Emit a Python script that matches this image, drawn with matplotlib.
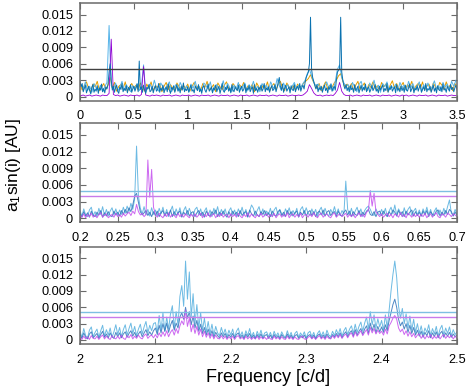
import numpy as np
import matplotlib
matplotlib.use('Agg')
import matplotlib.pyplot as plt
from matplotlib.ticker import FuncFormatter

plt.rcParams['font.family'] = ['Liberation Sans', 'DejaVu Sans']
plt.rcParams['mathtext.fontset'] = 'custom'
plt.rcParams['mathtext.rm'] = 'Liberation Sans'
plt.rcParams['mathtext.it'] = 'Liberation Sans:italic'

# ===================== data (amplitudes in units of 1e-4 AU) =====================
UNIT = 1e-4

# top panel: 0 - 3.5 c/d
TOP_BLUE_F0, TOP_BLUE_DF = 0.0, 0.01
TOP_BLUE = [
    28, 18, 24, 9, 15, 21, 7, 13, 19, 11, 5, 17, 22, 8, 14, 10, 20, 6, 16, 12, 23, 9, 15, 7, 18,
    14, 22, 45, 60, 30, 12, 19, 8, 16, 21, 10, 6, 18, 13, 24, 9, 15, 11, 20, 7, 17, 12, 22, 8, 14,
    19, 10, 16, 23, 9, 65, 13, 18, 8, 21, 12, 6, 17, 14, 22, 9, 11, 19, 7, 15, 20, 10, 13, 24, 8,
    16, 11, 21, 7, 14, 18, 9, 23, 12, 6, 17, 13, 20, 8, 15, 22, 10, 16, 7, 19, 12, 25, 9, 14, 11,
    18, 8, 15, 21, 10, 13, 7, 19, 16, 11, 22, 9, 14, 6, 17, 20, 12, 8, 15, 23, 10, 13, 18, 7, 16,
    12, 21, 9, 15, 19, 6, 14, 24, 11, 8, 17, 13, 20, 10, 16, 7, 22, 12, 9, 18, 14, 11, 21, 8, 15,
    19, 10, 13, 23, 7, 16, 12, 20, 9, 14, 18, 6, 22, 11, 15, 8, 17, 13, 21, 10, 14, 24, 9, 16, 12,
    18, 8, 15, 20, 11, 14, 22, 9, 17, 26, 35, 19, 12, 23, 8, 16, 21, 10, 14, 18, 7, 20, 13, 11, 22,
    9, 16, 19, 12, 24, 10, 17, 21, 14, 26, 35, 40, 45, 60, 145, 50, 35, 28, 20, 14, 22, 9, 17, 12, 19,
    8, 15, 21, 11, 16, 7, 18, 13, 22, 10, 15, 19, 12, 30, 45, 48, 50, 145, 45, 30, 20, 14, 22, 11, 17,
    9, 20, 13, 16, 8, 22, 11, 15, 19, 7, 14, 21, 10, 17, 12, 23, 9, 15, 18, 8, 13, 20, 11, 16, 22,
    10, 14, 7, 19, 12, 17, 21, 9, 15, 11, 24, 8, 16, 13, 20, 10, 14, 18, 7, 22, 12, 15, 9, 19, 11,
    17, 8, 21, 13, 10, 16, 23, 9, 14, 19, 7, 15, 12, 20, 10, 17, 22, 8, 13, 18, 11, 24, 9, 15, 12,
    19, 8, 14, 21, 10, 16, 7, 20, 13, 11, 18, 9, 23, 12, 15, 8, 19, 14, 10, 22, 13, 17, 9, 16, 21,
    12,
]

TOP_LIGHT_F0, TOP_LIGHT_DF = 0.01, 0.02
TOP_LIGHT = [
    22, 14, 27, 11, 19, 8, 24, 16, 12, 21, 9, 18, 26, 130, 20, 13, 25, 10, 17, 28, 12, 22, 15, 9, 20,
    14, 24, 11, 19, 58, 8, 17, 23, 13, 30, 16, 10, 25, 18, 12, 21, 27, 9, 15, 22, 11, 26, 17, 13, 20,
    9, 23, 15, 28, 12, 18, 10, 25, 20, 14, 27, 8, 19, 22, 13, 16, 29, 11, 24, 17, 9, 21, 14, 26, 12,
    18, 25, 10, 22, 15, 28, 13, 19, 9, 24, 16, 21, 12, 27, 18, 14, 33, 20, 11, 25, 15, 22, 10, 19, 26,
    14, 21, 17, 24, 30, 42, 50, 38, 26, 20, 23, 18, 12, 20, 27, 16, 24, 11, 28, 50, 58, 35, 25, 19, 22,
    12, 26, 17, 9, 22, 28, 14, 19, 11, 25, 16, 30, 13, 21, 8, 24, 18, 27, 12, 20, 15, 23, 10, 26, 17,
    21, 11, 28, 16, 24, 13, 19, 27, 9, 22, 15, 25, 12, 18, 29, 14, 20, 10, 26, 17, 23, 13, 28, 19, 30,
]

TOP_ORANGE_F0, TOP_ORANGE_DF = 0.0, 0.02
TOP_ORANGE = [
    25, 12, 20, 27, 15, 9, 23, 18, 28, 11, 17, 24, 13, 21, 35, 16, 26, 10, 19, 22, 14, 27, 9, 18, 24,
    16, 21, 12, 25, 18, 10, 23, 15, 27, 11, 20, 17, 24, 9, 19, 26, 13, 22, 16, 10, 25, 18, 12, 21, 15,
    23, 10, 19, 26, 14, 20, 11, 24, 17, 28, 12, 16, 22, 9, 25, 18, 13, 21, 27, 15, 10, 24, 19, 12, 22,
    17, 26, 11, 20, 14, 23, 9, 25, 18, 12, 21, 15, 27, 10, 19, 24, 13, 22, 28, 16, 11, 25, 18, 14, 20,
    12, 23, 17, 20, 26, 29, 33, 40, 30, 22, 15, 24, 11, 19, 27, 14, 21, 17, 25, 30, 38, 42, 28, 18, 23,
    16, 24, 11, 21, 28, 13, 19, 25, 10, 22, 17, 27, 14, 20, 12, 26, 18, 23, 9, 21, 29, 15, 24, 12, 19,
    26, 13, 22, 17, 28, 11, 20, 24, 15, 27, 12, 19, 23, 10, 25, 18, 14, 26, 21, 13, 27, 16, 22, 11, 24,
    18,
]

TOP_MAG_F0, TOP_MAG_DF = 0.01, 0.02
TOP_MAG = [
    2, 3, 1, 2, 3, 1, 2, 3, 2, 1, 3, 2, 2, 6, 105, 4, 2, 3, 1, 2, 3, 2, 1, 3, 2,
    2, 3, 1, 4, 55, 3, 2, 1, 3, 2, 3, 2, 1, 3, 2, 2, 3, 1, 2, 3, 2, 1, 3, 2, 2,
    3, 1, 2, 3, 2, 1, 3, 2, 2, 3, 1, 2, 3, 2, 1, 3, 2, 2, 3, 1, 2, 3, 2, 1, 3,
    2, 2, 3, 1, 2, 3, 2, 1, 3, 2, 2, 3, 1, 2, 3, 2, 1, 3, 2, 2, 3, 1, 2, 3, 2,
    2, 3, 2, 3, 6, 10, 22, 15, 7, 3, 2, 3, 1, 2, 3, 2, 3, 2, 6, 12, 26, 10, 4, 2, 2,
    3, 1, 2, 3, 2, 1, 3, 2, 2, 3, 1, 2, 3, 2, 1, 3, 2, 2, 3, 1, 2, 3, 2, 1, 3,
    2, 3, 1, 2, 3, 2, 1, 3, 2, 2, 3, 1, 2, 3, 2, 1, 3, 2, 2, 3, 1, 2, 3, 2, 2,
]
TOP_LIMIT = 0.005

# middle panel: 0.2 - 0.7 c/d
MID_F0, MID_DF = 0.2, 0.0025
MID_LIGHT = [
    14, 4, 17, 6, 3, 15, 20, 5, 12, 3, 18, 7, 21, 5, 16, 4, 13, 19, 6, 17,
    5, 15, 7, 20, 9, 22, 12, 27, 16, 35, 130, 40, 18, 8, 21, 6, 16, 4, 19, 7,
    15, 4, 18, 8, 20, 5, 16, 3, 13, 22, 5, 17, 7, 19, 4, 14, 21, 6, 18, 8,
    4, 16, 20, 6, 17, 4, 13, 19, 5, 15, 3, 18, 8, 21, 5, 16, 7, 17, 4, 13,
    19, 6, 15, 4, 17, 8, 20, 6, 16, 3, 13, 24, 18, 5, 14, 21, 6, 17, 4, 13,
    7, 18, 3, 15, 20, 6, 16, 8, 4, 17, 9, 19, 5, 14, 7, 18, 3, 16, 21, 8,
    19, 9, 5, 17, 7, 16, 3, 14, 20, 6, 18, 8, 4, 16, 9, 21, 7, 17, 5, 14,
    8, 67, 16, 6, 18, 4, 13, 20, 7, 17, 3, 14, 19, 22, 16, 8, 5, 17, 9, 6,
    16, 7, 18, 4, 13, 20, 8, 24, 6, 17, 10, 3, 19, 7, 16, 21, 5, 13, 18, 6,
    15, 4, 17, 8, 20, 6, 16, 3, 13, 19, 7, 15, 5, 18, 8, 21, 33, 9, 6, 16,
    7,
]
MID_BLUE = [
    9, 2, 12, 4, 10, 2, 13, 5, 3, 11, 6, 14, 2, 10, 4, 12, 5, 3, 13, 6,
    11, 4, 14, 7, 16, 9, 19, 12, 24, 40, 45, 28, 12, 6, 10, 14, 5, 11, 3, 12,
    5, 13, 3, 10, 14, 4, 11, 6, 15, 3, 12, 5, 10, 13, 2, 11, 6, 14, 4, 10,
    12, 3, 10, 14, 5, 11, 2, 13, 6, 4, 12, 7, 15, 3, 11, 5, 13, 6, 2, 12,
    4, 13, 6, 11, 3, 14, 5, 10, 12, 2, 15, 8, 4, 13, 6, 3, 12, 7, 14, 5,
    10, 3, 13, 6, 4, 12, 15, 5, 11, 3, 14, 6, 12, 4, 10, 13, 2, 11, 6, 14,
    4, 11, 14, 5, 12, 3, 10, 13, 6, 15, 4, 11, 14, 5, 10, 12, 3, 13, 6, 4,
    11, 15, 6, 13, 3, 12, 7, 5, 14, 4, 11, 6, 13, 16, 7, 5, 12, 3, 11, 13,
    5, 13, 7, 3, 12, 6, 15, 11, 4, 14, 7, 12, 3, 13, 6, 11, 15, 4, 12, 5,
    11, 4, 13, 6, 14, 3, 12, 7, 5, 13, 15, 4, 11, 6, 14, 7, 16, 12, 4, 11,
    6,
]
MID_MAG = [
    6, 2, 8, 1, 7, 3, 9, 2, 6, 1, 7, 10, 2, 6, 8, 1, 4, 7, 2, 9,
    3, 7, 2, 9, 4, 8, 11, 5, 13, 8, 25, 12, 6, 9, 3, 7, 105, 38, 88, 20,
    7, 2, 9, 4, 1, 8, 3, 10, 2, 7, 5, 1, 9, 3, 7, 2, 8, 4, 1, 7,
    3, 8, 2, 6, 9, 1, 7, 3, 10, 2, 6, 8, 1, 7, 3, 9, 2, 6, 7, 1,
    8, 3, 7, 2, 9, 4, 1, 7, 3, 10, 2, 8, 4, 1, 7, 3, 9, 2, 6, 8,
    2, 7, 3, 9, 1, 6, 8, 2, 7, 3, 10, 1, 6, 8, 2, 7, 3, 9, 1, 6,
    7, 2, 8, 3, 10, 4, 1, 7, 9, 2, 6, 8, 3, 1, 7, 10, 2, 6, 8, 3,
    6, 9, 2, 7, 3, 8, 1, 6, 10, 3, 7, 2, 11, 14, 50, 22, 45, 12, 7, 3,
    8, 2, 6, 9, 3, 7, 1, 8, 6, 2, 10, 3, 7, 1, 9, 6, 2, 8, 3, 7,
    2, 7, 3, 9, 1, 6, 8, 2, 7, 10, 3, 1, 8, 6, 2, 9, 7, 3, 8, 6,
    3,
]
MID_LIMITS = (0.00497, 0.00401)

# bottom panel: 2.0 - 2.5 c/d
BOT_F0, BOT_DF = 2.0, 0.0025
BOT_LIGHT = [
    16, 5, 21, 8, 4, 18, 24, 6, 14, 20, 5, 17, 27, 7, 19, 9, 22, 5, 15, 28,
    10, 23, 6, 19, 28, 9, 21, 31, 12, 25, 8, 20, 29, 11, 24, 34, 13, 27, 17, 30,
    32, 14, 45, 18, 50, 16, 42, 20, 48, 63, 22, 52, 28, 80, 100, 62, 145, 75, 125, 42,
    85, 30, 65, 22, 50, 18, 40, 14, 34, 12, 29, 9, 25, 13, 8, 23, 10, 20, 6, 18,
    9, 20, 5, 16, 22, 7, 15, 4, 17, 8, 21, 6, 14, 3, 16, 7, 18, 5, 13, 15,
    6, 14, 4, 16, 7, 13, 4, 15, 8, 5, 17, 6, 14, 3, 12, 16, 5, 13, 7, 15,
    4, 13, 16, 6, 14, 3, 12, 17, 7, 15, 5, 18, 9, 6, 16, 8, 19, 10, 21, 7,
    17, 23, 10, 20, 26, 12, 29, 14, 25, 33, 16, 31, 42, 20, 52, 28, 46, 22, 39, 24,
    36, 18, 46, 22, 55, 90, 120, 145, 115, 62, 40, 58, 30, 48, 22, 44, 18, 38, 14, 30,
    12, 26, 9, 22, 14, 28, 8, 21, 11, 25, 7, 20, 27, 9, 22, 12, 24, 8, 19, 10,
    15,
]
BOT_BLUE = [
    10, 3, 13, 5, 2, 11, 15, 4, 8, 12, 3, 10, 16, 5, 11, 4, 13, 6, 3, 14,
    6, 13, 4, 11, 15, 5, 12, 17, 7, 14, 5, 11, 16, 6, 13, 19, 8, 15, 9, 17,
    22, 10, 27, 13, 30, 16, 31, 14, 27, 36, 18, 31, 22, 42, 50, 38, 60, 40, 52, 28,
    44, 22, 36, 16, 29, 12, 23, 9, 20, 7, 17, 5, 14, 8, 4, 13, 6, 12, 3, 10,
    5, 12, 3, 10, 13, 4, 9, 2, 11, 5, 12, 3, 9, 2, 10, 4, 11, 3, 8, 10,
    3, 9, 2, 10, 4, 8, 2, 10, 5, 3, 11, 3, 9, 2, 8, 10, 3, 8, 4, 9,
    2, 8, 10, 3, 9, 2, 8, 11, 4, 9, 3, 11, 5, 3, 10, 5, 12, 6, 13, 4,
    11, 15, 6, 13, 17, 7, 19, 9, 16, 21, 10, 20, 26, 12, 31, 17, 29, 13, 25, 15,
    24, 14, 28, 17, 36, 50, 65, 75, 60, 38, 26, 33, 20, 30, 14, 27, 12, 23, 9, 18,
    7, 16, 5, 14, 8, 17, 4, 13, 6, 15, 4, 12, 16, 5, 13, 7, 14, 5, 11, 6,
    9,
]
BOT_MAG = [
    5, 1, 7, 2, 6, 1, 8, 3, 2, 7, 1, 6, 9, 2, 7, 3, 1, 8, 4, 2,
    7, 2, 9, 3, 1, 8, 4, 10, 2, 7, 3, 9, 4, 2, 8, 11, 3, 7, 9, 4,
    10, 4, 13, 6, 15, 7, 17, 6, 14, 19, 9, 21, 12, 26, 35, 28, 55, 25, 40, 15,
    29, 12, 25, 9, 20, 6, 16, 5, 13, 3, 11, 2, 9, 3, 2, 8, 2, 7, 1, 6,
    2, 7, 1, 6, 8, 2, 5, 1, 7, 2, 6, 1, 5, 2, 7, 1, 6, 2, 5, 1,
    6, 2, 1, 7, 2, 5, 1, 6, 2, 1, 7, 2, 5, 1, 6, 2, 1, 5, 7, 2,
    1, 5, 7, 2, 6, 1, 5, 8, 2, 6, 1, 7, 3, 2, 8, 3, 9, 4, 10, 3,
    8, 11, 4, 10, 13, 5, 15, 7, 12, 17, 8, 14, 19, 9, 23, 13, 21, 11, 18, 12,
    16, 9, 20, 11, 26, 32, 40, 45, 38, 22, 15, 20, 10, 17, 7, 15, 6, 12, 4, 9,
    11, 3, 9, 2, 8, 4, 10, 2, 7, 3, 9, 2, 7, 10, 3, 8, 4, 9, 2, 7,
    3,
]
BOT_LIMITS = (0.00509, 0.00423)

# ===================== style =====================
C_ORANGE = '#E69F00'
C_LIGHT = '#56B4E9'
C_BLUE = '#0A72B0'
C_PURPLE = '#9400D3'
C_LIGHT2 = '#5DB3E0'
C_BLUE2 = '#2F73BA'
C_MAG2 = '#C44DEE'
FRAME = '#6a6a6a'

W, H = 471, 392


def series(f0, df, vals):
    vals = np.asarray(vals, dtype=float) * UNIT
    return f0 + df * np.arange(len(vals)), vals


def style_axes(ax, xlim, xticks):
    ax.set_xlim(*xlim)
    ax.set_ylim(-0.0007, 0.0171)
    ax.set_xticks(xticks)
    ax.set_yticks(np.arange(0, 0.0151, 0.003))
    fmt = FuncFormatter(lambda v, p: f"{v:g}")
    ax.xaxis.set_major_formatter(fmt)
    ax.yaxis.set_major_formatter(fmt)
    ax.tick_params(direction='in', length=4, width=0.8, color=FRAME,
                   top=True, right=True, labelsize=9.2)
    ax.tick_params(axis='x', pad=7)
    ax.tick_params(axis='y', pad=5)
    for s in ax.spines.values():
        s.set_color(FRAME)
        s.set_linewidth(1.1)


def px_axes(fig, top, bottom):
    return fig.add_axes([80 / W, 1 - bottom / H, 377 / W, (bottom - top) / H])


fig = plt.figure(figsize=(W / 100, H / 100), dpi=100)

# top
ax1 = px_axes(fig, 3, 100.5)
for f0, df, vals, c, lw in [(TOP_ORANGE_F0, TOP_ORANGE_DF, TOP_ORANGE, C_ORANGE, 0.7),
                            (TOP_LIGHT_F0, TOP_LIGHT_DF, TOP_LIGHT, C_LIGHT, 0.7),
                            (TOP_MAG_F0, TOP_MAG_DF, TOP_MAG, C_PURPLE, 0.6),
                            (TOP_BLUE_F0, TOP_BLUE_DF, TOP_BLUE, C_BLUE, 0.7)]:
    x, y = series(f0, df, vals)
    ax1.plot(x, y, color=c, lw=lw)
ax1.axhline(TOP_LIMIT, color='#404040', lw=1.0)
style_axes(ax1, (0, 3.5), np.arange(0, 3.51, 0.5))

# middle
ax2 = px_axes(fig, 123.3, 222.2)
for vals, c, a in [(MID_LIGHT, C_LIGHT2, 0.9), (MID_BLUE, C_BLUE2, 0.85), (MID_MAG, C_MAG2, 0.85)]:
    x, y = series(MID_F0, MID_DF, vals)
    ax2.plot(x, y, color=c, lw=0.7, alpha=a)
ax2.axhline(MID_LIMITS[0], color='#7DBFE2', lw=1.0)
ax2.axhline(MID_LIMITS[1], color='#C77BEA', lw=1.0)
style_axes(ax2, (0.2, 0.7), np.arange(0.2, 0.701, 0.05))

# bottom
ax3 = px_axes(fig, 246.9, 343.8)
for vals, c, a in [(BOT_LIGHT, C_LIGHT2, 0.9), (BOT_BLUE, C_BLUE2, 0.85), (BOT_MAG, C_MAG2, 0.85)]:
    x, y = series(BOT_F0, BOT_DF, vals)
    ax3.plot(x, y, color=c, lw=0.7, alpha=a)
ax3.axhline(BOT_LIMITS[0], color='#7DBFE2', lw=1.0)
ax3.axhline(BOT_LIMITS[1], color='#C77BEA', lw=1.0)
style_axes(ax3, (2.0, 2.5), np.arange(2.0, 2.501, 0.1))

fig.text(268.5 / W, 1 - 377 / H, 'Frequency [c/d]', ha='center', va='center', fontsize=13)
fig.text(14 / W, 1 - 164.5 / H, r'a$_1$sin(i) [AU]', ha='center', va='center',
         rotation=90, fontsize=12.5)

fig.savefig('out.png', dpi=100)
